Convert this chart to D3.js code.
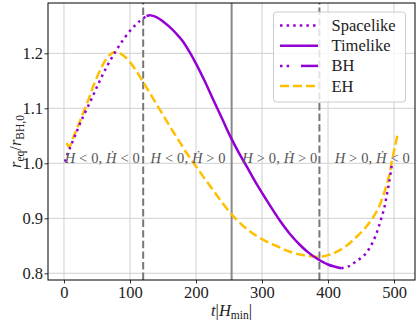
<!DOCTYPE html>
<html>
<head>
<meta charset="utf-8">
<script src="https://cdn.jsdelivr.net/npm/d3@7"></script>
</head>
<body style="margin:0; background:#fff">
<svg id="chart" width="417" height="323"></svg>
<script>
// ---- data ----
const xTicks = [0, 100, 200, 300, 400, 500];
const yTicks = [0.8, 0.9, 1.0, 1.1, 1.2];

// phase boundaries (t|H_min|) and their styles
const phaseLines  = [120, 254, 387];
const phaseDashed = [true, false, true];
const phaseLabelT = [58, 188, 327, 467];
const phaseSigns  = [["<", "<"], ["<", ">"], [">", ">"], [">", "<"]];

// black hole apparent horizon: spacelike / timelike / spacelike pieces
const bhSpacelikeEarly = [[1.5, 1.003], [8, 1.025], [16, 1.048], [26, 1.077], [41, 1.115],
  [53, 1.147], [65, 1.176], [78, 1.203], [90, 1.225], [103, 1.245], [115, 1.259], [125, 1.268]];
const bhTimelike = [[125, 1.268], [131, 1.269], [140, 1.266], [150, 1.258], [160, 1.248],
  [170, 1.236], [180, 1.222], [190, 1.203], [201, 1.179], [213, 1.150], [226, 1.116],
  [240, 1.080], [252, 1.049], [265, 1.019], [277, 0.994], [292, 0.962], [307, 0.933],
  [327, 0.896], [342, 0.872], [358, 0.851], [370, 0.838], [383, 0.827], [400, 0.816], [420, 0.809]];
const bhSpacelikeLate = [[420, 0.809], [432, 0.813], [443, 0.822], [455, 0.833], [464, 0.848],
  [472, 0.868], [479, 0.893], [485, 0.918], [489, 0.942], [493, 0.968], [497, 1.0]];

// event horizon
const ehCurve = [[4, 1.037], [8, 1.030], [14, 1.047], [20, 1.064], [26, 1.082], [32, 1.100],
  [38, 1.119], [45, 1.142], [55, 1.170], [63, 1.188], [70, 1.198], [76, 1.202], [82, 1.202],
  [90, 1.196], [100, 1.184], [110, 1.167], [120, 1.148], [130, 1.128], [140, 1.108],
  [150, 1.088], [162, 1.064], [173, 1.043], [185, 1.020], [198, 0.998], [212, 0.974],
  [226, 0.951], [240, 0.928], [254, 0.907], [268, 0.890], [282, 0.876], [300, 0.862],
  [325, 0.848], [340, 0.840], [358, 0.834], [373, 0.831], [388, 0.830], [400, 0.833],
  [413, 0.839], [428, 0.850], [443, 0.866], [456, 0.882], [469, 0.903], [478, 0.923],
  [486, 0.950], [492, 0.975], [497, 1.005], [501, 1.028], [505, 1.05]];

// ---- layout ----
const W = 417, H = 323;
const margin = { top: 3, right: 2, bottom: 43, left: 48 };
const purple = "#9400d3";
const amber  = "#ffbf00";
const serif  = '"Liberation Serif"';

const svg = d3.select("#chart").style("font-family", serif);

const x = d3.scaleLinear().domain([-24.2, 531.8]).range([margin.left, W - margin.right]);
const y = d3.scaleLinear().domain([0.7878, 1.2915]).range([H - margin.bottom, margin.top]);

// grid
const grid = svg.append("g");
grid.selectAll("line.gx").data(xTicks).join("line")
  .attr("x1", d => x(d)).attr("x2", d => x(d))
  .attr("y1", y.range()[0]).attr("y2", y.range()[1])
  .attr("stroke", "#d0d0d0").attr("stroke-width", 1);
grid.selectAll("line.gy").data(yTicks).join("line")
  .attr("y1", d => y(d)).attr("y2", d => y(d))
  .attr("x1", x.range()[0]).attr("x2", x.range()[1])
  .attr("stroke", "#d0d0d0").attr("stroke-width", 1);

// phase boundaries
svg.append("g").selectAll("line").data(phaseLines).join("line")
  .attr("x1", d => x(d)).attr("x2", d => x(d))
  .attr("y1", y.range()[0]).attr("y2", y.range()[1])
  .attr("stroke", (d, i) => phaseDashed[i] ? "#777" : "#888")
  .attr("stroke-width", 2)
  .attr("stroke-dasharray", (d, i) => phaseDashed[i] ? "7.4,3.2" : null);

// curves
const line = d3.line().x(d => x(d[0])).y(d => y(d[1])).curve(d3.curveCatmullRom.alpha(0.5));

svg.append("path").datum(ehCurve)
  .attr("d", line).attr("fill", "none")
  .attr("stroke", amber).attr("stroke-width", 2.5).attr("stroke-dasharray", "9,4");

[bhSpacelikeEarly, bhSpacelikeLate].forEach(seg => {
  svg.append("path").datum(seg)
    .attr("d", line).attr("fill", "none")
    .attr("stroke", purple).attr("stroke-width", 2.5).attr("stroke-dasharray", "2.5,4.1");
});
svg.append("path").datum(bhTimelike)
  .attr("d", line).attr("fill", "none")
  .attr("stroke", purple).attr("stroke-width", 2.5);

// phase labels
phaseLabelT.forEach((t, i) => {
  const tx = svg.append("text")
    .attr("x", x(t)).attr("y", y(1.0) - 0.5)
    .attr("text-anchor", "middle")
    .attr("font-size", 14.5).attr("fill", "#555")
    .style("font-family", serif)
    .attr("textLength", 75).attr("lengthAdjust", "spacing");
  tx.append("tspan").attr("font-style", "italic").text("H");
  tx.append("tspan").text(` ${phaseSigns[i][0]} 0, `);
  tx.append("tspan").attr("font-style", "italic").text("\u1E22");
  tx.append("tspan").text(` ${phaseSigns[i][1]} 0`);
});

// axes
const xAxis = svg.append("g")
  .attr("transform", `translate(0,${H - margin.bottom})`)
  .call(d3.axisBottom(x).tickValues(xTicks).tickSize(3.5).tickPadding(3).tickFormat(d3.format("d")));
const yAxis = svg.append("g")
  .attr("transform", `translate(${margin.left},0)`)
  .call(d3.axisLeft(y).tickValues(yTicks).tickSize(3.5).tickPadding(1.5).tickFormat(d3.format(".1f")));
[xAxis, yAxis].forEach(g => {
  g.style("font-family", serif);
  g.select(".domain").remove();
  g.selectAll(".tick line").attr("stroke", "#000").attr("stroke-width", 0.8);
  g.selectAll(".tick text").style("font-family", serif).attr("font-size", 16.5).attr("fill", "#222");
});

// frame
svg.append("rect")
  .attr("x", x.range()[0]).attr("y", y.range()[1])
  .attr("width", x.range()[1] - x.range()[0]).attr("height", y.range()[0] - y.range()[1])
  .attr("fill", "none").attr("stroke", "#000").attr("stroke-width", 1);

// axis labels
const xl = svg.append("text")
  .attr("x", (x.range()[0] + x.range()[1]) / 2).attr("y", 316)
  .attr("text-anchor", "middle").attr("font-size", 16.5).attr("fill", "#222")
  .style("font-family", serif);
xl.append("tspan").attr("font-style", "italic").text("t");
xl.append("tspan").text("|");
xl.append("tspan").attr("font-style", "italic").text("H");
xl.append("tspan").attr("font-size", 11.5).attr("dy", 3).text("min");
xl.append("tspan").attr("dy", -3).text("|");

const yl = svg.append("text")
  .attr("transform", `translate(21,${(y.range()[0] + y.range()[1]) / 2}) rotate(-90)`)
  .attr("text-anchor", "middle").attr("font-size", 16.5).attr("fill", "#222")
  .style("font-family", serif);
yl.append("tspan").attr("font-style", "italic").text("r");
yl.append("tspan").attr("font-size", 11.5).attr("dy", 3).text("eq");
yl.append("tspan").attr("dy", -3).text("/");
yl.append("tspan").attr("font-style", "italic").text("r");
yl.append("tspan").attr("font-size", 11.5).attr("dy", 3).text("BH,0");

// legend
const legendItems = ["Spacelike", "Timelike", "BH", "EH"];
const leg = svg.append("g");
leg.append("rect")
  .attr("x", 273.5).attr("y", 12).attr("width", 132).attr("height", 90).attr("rx", 3)
  .attr("fill", "#fff").attr("fill-opacity", 0.8)
  .attr("stroke", "#ccc").attr("stroke-width", 1);
legendItems.forEach((name, i) => {
  const cy = 25.5 + i * 20.2;
  const g = leg.append("g");
  if (name === "BH") {
    g.append("line").attr("x1", 280).attr("x2", 293).attr("y1", cy).attr("y2", cy)
      .attr("stroke", purple).attr("stroke-width", 2.5).attr("stroke-dasharray", "2.5,4.1");
    g.append("line").attr("x1", 301).attr("x2", 318).attr("y1", cy).attr("y2", cy)
      .attr("stroke", purple).attr("stroke-width", 2.5);
  } else {
    g.append("line").attr("x1", 280).attr("x2", 318).attr("y1", cy).attr("y2", cy)
      .attr("stroke", name === "EH" ? amber : purple).attr("stroke-width", 2.5)
      .attr("stroke-dasharray", name === "Spacelike" ? "2.5,4.1" : name === "EH" ? "9,4" : null);
  }
  g.append("text").attr("x", 331.5).attr("y", cy + 5.5)
    .attr("font-size", 16.5).attr("fill", "#222")
    .style("font-family", serif).text(name);
});
</script>
</body>
</html>
